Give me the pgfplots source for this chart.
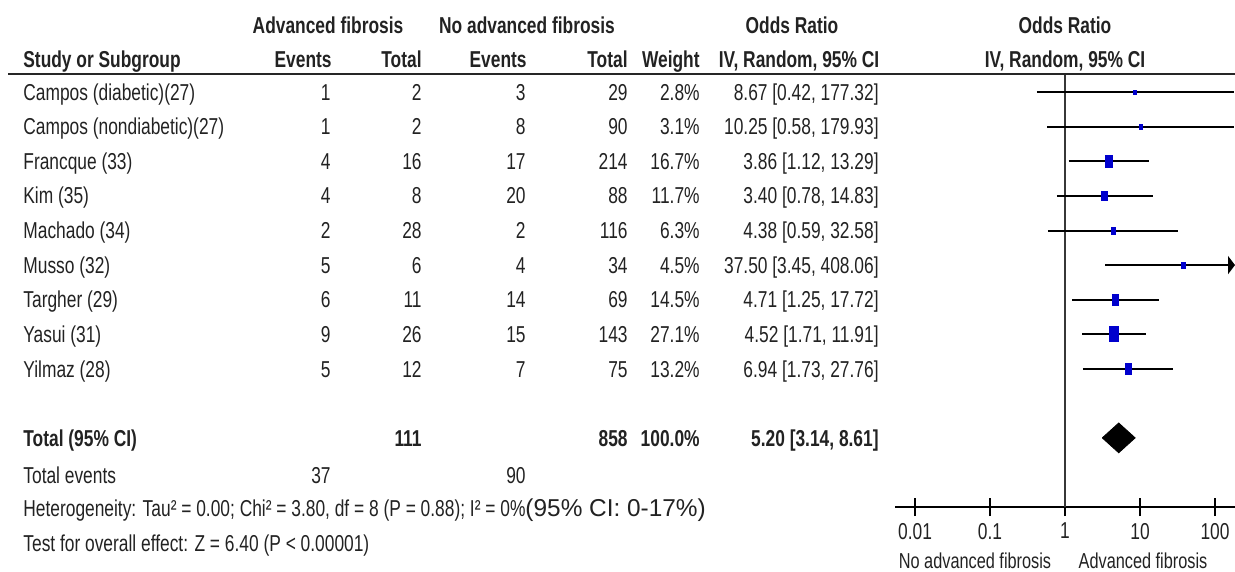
\documentclass[border=0pt]{standalone}
\usepackage{pgfplots}
\pgfplotsset{compat=1.18}
\usepackage{pgfplotstable}
\usetikzlibrary{arrows.meta}
\usepackage{fontspec}
\setmainfont[FakeStretch=0.755]{Liberation Sans}
\newfontfamily\widefont{Liberation Sans}
\definecolor{txt}{RGB}{34,34,34}
\definecolor{sqblue}{RGB}{0,0,205}
\definecolor{vline}{RGB}{55,55,55}
\newcommand\fs{\fontsize{11.5pt}{13.8pt}\selectfont}

% study rows: vertical position (row), odds ratio, 95% CI, weight (%)
\pgfplotstableread{
pos or lo hi w
12 8.67 0.42 177.32 2.8
11 10.25 0.58 179.93 3.1
10 3.86 1.12 13.29 16.7
9 3.40 0.78 14.83 11.7
8 4.38 0.59 32.58 6.3
7 37.50 3.45 408.06 4.5
6 4.71 1.25 17.72 14.5
5 4.52 1.71 11.91 27.1
4 6.94 1.73 27.76 13.2
}\studies

% confidence interval segments (nan = break)
\pgfplotstableread{
x y
0.42 12
177.32 12
nan 12
0.58 11
179.93 11
nan 11
1.12 10
13.29 10
nan 10
0.78 9
14.83 9
nan 9
0.59 8
32.58 8
nan 8
1.25 6
17.72 6
nan 6
1.71 5
11.91 5
nan 5
1.73 4
27.76 4
}\cilines

\newcommand\studyrow[8]{%
  \node[anchor=base west] at (23,#1) {#2};
  \node[anchor=base east] at (331,#1) {#3};
  \node[anchor=base east] at (422,#1) {#4};
  \node[anchor=base east] at (526,#1) {#5};
  \node[anchor=base east] at (628,#1) {#6};
  \node[anchor=base east] at (700,#1) {#7};
  \node[anchor=base east] at (879,#1) {#8};
}

\begin{document}
\begin{tikzpicture}
\useasboundingbox (0pt,0pt) rectangle (617.5pt,-286pt);
\begin{axis}[
  at={(447.5pt,-37.5pt)}, anchor=north west,
  scale only axis, width=170pt, height=216pt,
  xmode=log, xmin=0.005412, xmax=184.8,
  ymin=0, ymax=12.5,
  axis x line=bottom, axis y line=none,
  x axis line style={-, line width=1pt, black},
  xtick={0.01,0.1,1,10,100},
  xticklabels={0.01,0.1,1,10,100},
  xminorticks=false,
  xtick align=center, major tick length=9pt,
  every tick/.style={black, line width=0.8pt},
  xticklabel style={font=\fs, text=txt},
  clip=false,
]
% line of no effect
\addplot[vline, line width=0.7pt] coordinates {(1,0) (1,12.5)};
% confidence intervals
\addplot[black, line width=1pt, unbounded coords=jump] table[x=x, y=y] {\cilines};
\addplot[black, line width=1pt, -{Triangle[length=3.5pt, width=9pt]}] coordinates {(3.45,7) (184.8,7)};
% study squares
\addplot[scatter, only marks, mark=square*,
  scatter/use mapped color={draw=sqblue, fill=sqblue},
  visualization depends on={0.71*sqrt(\thisrow{w}) \as \msz},
  scatter/@pre marker code/.append style={/tikz/mark size=\msz},
  mark options={xscale=0.62}]
  table[x=or, y=pos] {\studies};
% pooled diamond
\addplot[fill=black, draw=black] coordinates {(3.14,2) (5.20,2.43) (8.61,2) (5.20,1.57) (3.14,2)};
\end{axis}

\begin{scope}[x=0.5pt, y=-0.5pt, every node/.style={font=\fs, text=txt, inner sep=0pt}]
  % header line
  \draw[black!85, line width=1.3pt] (8,74) -- (1235,74);
  % header row 1
  \node[anchor=base, font=\fs\bfseries] at (328,33.5) {Advanced fibrosis};
  \node[anchor=base, font=\fs\bfseries] at (527,33.5) {No advanced fibrosis};
  \node[anchor=base, font=\fs\bfseries] at (792,33.5) {Odds Ratio};
  \node[anchor=base, font=\fs\bfseries] at (1065,33.5) {Odds Ratio};
  % header row 2
  \node[anchor=base west, font=\fs\bfseries] at (23,68) {Study or Subgroup};
  \node[anchor=base east, font=\fs\bfseries] at (332,68) {Events};
  \node[anchor=base east, font=\fs\bfseries] at (422,68) {Total};
  \node[anchor=base east, font=\fs\bfseries] at (527,68) {Events};
  \node[anchor=base east, font=\fs\bfseries] at (628,68) {Total};
  \node[anchor=base east, font=\fs\bfseries] at (700,68) {Weight};
  \node[anchor=base, font=\fs\bfseries] at (799,68) {IV, Random, 95\% CI};
  \node[anchor=base, font=\fs\bfseries] at (1065,68) {IV, Random, 95\% CI};
  % study rows
  \studyrow{100.2}{Campos (diabetic)(27)}{1}{2}{3}{29}{2.8\%}{8.67 [0.42, 177.32]}
  \studyrow{134.8}{Campos (nondiabetic)(27)}{1}{2}{8}{90}{3.1\%}{10.25 [0.58, 179.93]}
  \studyrow{169.4}{Francque (33)}{4}{16}{17}{214}{16.7\%}{3.86 [1.12, 13.29]}
  \studyrow{204.0}{Kim (35)}{4}{8}{20}{88}{11.7\%}{3.40 [0.78, 14.83]}
  \studyrow{238.6}{Machado (34)}{2}{28}{2}{116}{6.3\%}{4.38 [0.59, 32.58]}
  \studyrow{273.2}{Musso (32)}{5}{6}{4}{34}{4.5\%}{37.50 [3.45, 408.06]}
  \studyrow{307.8}{Targher (29)}{6}{11}{14}{69}{14.5\%}{4.71 [1.25, 17.72]}
  \studyrow{342.4}{Yasui (31)}{9}{26}{15}{143}{27.1\%}{4.52 [1.71, 11.91]}
  \studyrow{377.0}{Yilmaz (28)}{5}{12}{7}{75}{13.2\%}{6.94 [1.73, 27.76]}
  % total row
  \node[anchor=base west, font=\fs\bfseries] at (23,446.2) {Total (95\% CI)};
  \node[anchor=base east, font=\fs\bfseries] at (422,446.2) {111};
  \node[anchor=base east, font=\fs\bfseries] at (628,446.2) {858};
  \node[anchor=base east, font=\fs\bfseries] at (700,446.2) {100.0\%};
  \node[anchor=base east, font=\fs\bfseries] at (879,446.2) {5.20 [3.14, 8.61]};
  % total events
  \node[anchor=base west] at (23,483.5) {Total events};
  \node[anchor=base east] at (331,483.5) {37};
  \node[anchor=base east] at (526,483.5) {90};
  % statistics
  \node[anchor=base west] at (23,516.5) {Heterogeneity: Tau² = 0.00; Chi² = 3.80, df = 8 (P = 0.88); I² = 0\%{\widefont\fontsize{12.2pt}{14pt}\selectfont(95\% CI: 0-17\%)}};
  \node[anchor=base west] at (23,551) {Test for overall effect: Z = 6.40 (P < 0.00001)};
  % axis captions
  \node[anchor=base, font=\fontsize{10.8pt}{13pt}\selectfont] at (975,568.5) {No advanced fibrosis};
  \node[anchor=base, font=\fontsize{10.8pt}{13pt}\selectfont] at (1143,568.5) {Advanced fibrosis};
\end{scope}
\end{tikzpicture}
\end{document}
